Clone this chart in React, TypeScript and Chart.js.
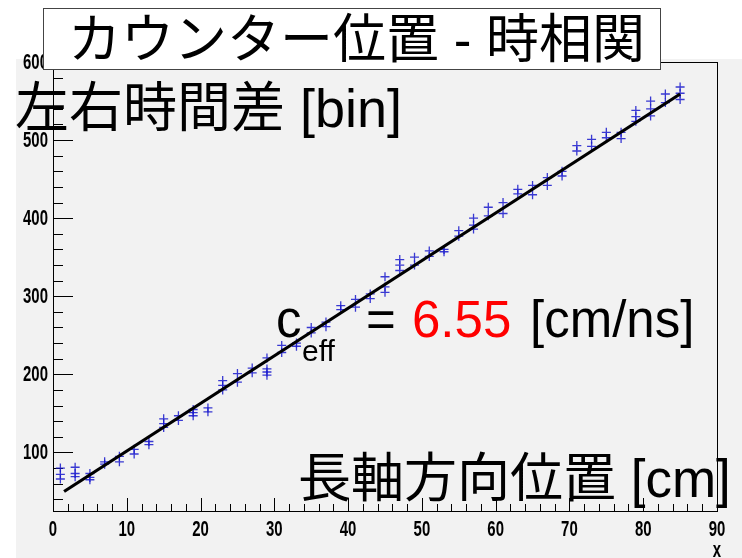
import React, { useEffect, useRef } from "react";
import { Chart, registerables } from "chart.js";

Chart.register(...registerables);

// counter position along the long axis [cm]
const positionsCm = [
  1, 3, 5, 7, 9, 11, 13, 15, 17, 19, 21, 23, 25, 27, 29, 31, 33, 35, 37, 39, 41, 43,
  45, 47, 49, 51, 53, 55, 57, 59, 61, 63, 65, 67, 69, 71, 73, 75, 77, 79, 81, 83, 85,
];

// left-right time difference [bin], several measurements per position
const timeDiffBins = [
  [80, 72, 66],
  [81, 73, 69],
  [73, 68, 65],
  [88, 85],
  [95, 88],
  [104, 98],
  [114, 110],
  [143, 137, 132],
  [147, 141],
  [155, 151, 147],
  [157, 152],
  [192, 186, 180],
  [201, 190],
  [208, 202],
  [221, 207, 203, 199],
  [237, 228],
  [240, 236],
  [260, 253],
  [267, 261],
  [288, 283],
  [296, 286],
  [303, 297],
  [325, 312, 305],
  [347, 340, 333],
  [350, 340],
  [358, 351],
  [360, 357],
  [384, 377],
  [400, 391, 386],
  [414, 403],
  [420, 406],
  [437, 431],
  [442, 430],
  [452, 442],
  [460, 454],
  [493, 486],
  [501, 492],
  [510, 503],
  [510, 502],
  [538, 530, 524],
  [550, 540, 531],
  [559, 548],
  [568, 560, 552],
];

// linear fit line end points
const fitPosCm = [1.5, 85];
const fitTimeDiff = [50, 559];

const xMajorTicks = [0, 10, 20, 30, 40, 50, 60, 70, 80, 90];
const yMajorTicks = [100, 200, 300, 400, 500, 600];
const xRange = [0, 90];
const yRange = [25, 600];

const titleText = "カウンター位置 - 時相関";
const yTitleText = "左右時間差 [bin]";
const xTitleText = "長軸方向位置 [cm]";
const ceffValue = "6.55";
const ceffUnit = "[cm/ns]";

const labelFont = "bold 22px 'Liberation Sans', sans-serif";
const labelSqueeze = 0.68;

function drawSqueezed(ctx: any, text: string, x: number, y: number, align: "left" | "right" | "center") {
  ctx.save();
  ctx.translate(x, y);
  ctx.scale(labelSqueeze, 1);
  ctx.textAlign = align;
  ctx.fillText(text, 0, 0);
  ctx.restore();
}

const frameTicksPlugin = {
  id: "frameTicks",
  beforeDatasetsDraw(chart: any) {
    const { ctx, chartArea } = chart;
    const xs = chart.scales.x;
    const ys = chart.scales.y;
    const { left, right, top, bottom } = chartArea;
    ctx.save();
    ctx.strokeStyle = "#000";
    ctx.lineWidth = 1;
    ctx.strokeRect(Math.round(left) + 0.5, Math.round(top) + 0.5, Math.round(right - left), Math.round(bottom - top));
    ctx.beginPath();
    for (let v = xRange[0]; v <= xRange[1]; v += 2) {
      const px = Math.round(xs.getPixelForValue(v)) + 0.5;
      const len = v % 10 === 0 ? 13 : 7;
      ctx.moveTo(px, bottom);
      ctx.lineTo(px, bottom - len);
    }
    for (let v = 40; v <= yRange[1]; v += 20) {
      const py = Math.round(ys.getPixelForValue(v)) + 0.5;
      const len = v % 100 === 0 ? 20 : 10;
      ctx.moveTo(left, py);
      ctx.lineTo(left + len, py);
    }
    ctx.stroke();

    // tick labels
    ctx.fillStyle = "#000";
    ctx.font = labelFont;
    ctx.textBaseline = "middle";
    xMajorTicks.forEach((v) => {
      drawSqueezed(ctx, String(v), xs.getPixelForValue(v), bottom + 19, "center");
    });
    yMajorTicks.forEach((v) => {
      drawSqueezed(ctx, String(v), left - 5, ys.getPixelForValue(v) + 1, "right");
    });
    drawSqueezed(ctx, "x", xs.getPixelForValue(xRange[1]), bottom + 40, "center");
    ctx.restore();
  },
};

export default function App() {
  const canvasRef = useRef<HTMLCanvasElement | null>(null);

  useEffect(() => {
    if (!canvasRef.current) return;
    const points = positionsCm.flatMap((x, i) => timeDiffBins[i].map((y) => ({ x, y })));
    const fitLine = fitPosCm.map((x, i) => ({ x, y: fitTimeDiff[i] }));

    const chart = new Chart(canvasRef.current, {
      type: "scatter",
      data: {
        datasets: [
          {
            type: "line",
            data: fitLine,
            borderColor: "#000",
            borderWidth: 3.2,
            pointRadius: 0,
            fill: false,
            order: 0,
          } as any,
          {
            type: "scatter",
            data: points,
            pointStyle: "cross",
            pointRadius: 4.5,
            borderColor: "rgba(25, 25, 205, 0.85)",
            borderWidth: 1.3,
            order: 1,
          } as any,
        ],
      },
      options: {
        responsive: false,
        animation: false,
        devicePixelRatio: 1,
        layout: { padding: { left: 0, top: 62, right: 25, bottom: 0 } },
        plugins: {
          legend: { display: false },
          tooltip: { enabled: false },
          title: { display: false },
        },
        scales: {
          x: {
            type: "linear",
            min: xRange[0],
            max: xRange[1],
            grid: { display: false, drawTicks: false },
            border: { display: false },
            afterBuildTicks: (s: any) => {
              s.ticks = xMajorTicks.map((value) => ({ value }));
            },
            afterFit: (s: any) => {
              s.height = 47;
            },
            ticks: { display: false },
          },
          y: {
            type: "linear",
            min: yRange[0],
            max: yRange[1],
            grid: { display: false, drawTicks: false },
            border: { display: false },
            afterBuildTicks: (s: any) => {
              s.ticks = yMajorTicks.map((value) => ({ value }));
            },
            afterFit: (s: any) => {
              s.width = 53;
            },
            ticks: { display: false },
          },
        },
      },
      plugins: [frameTicksPlugin],
    });
    return () => chart.destroy();
  }, []);

  const big = "'Liberation Sans', 'Noto Sans CJK JP', sans-serif";

  return (
    <div
      style={{
        position: "fixed",
        left: 0,
        top: 0,
        width: 742,
        height: 558,
        background: "#fff",
        overflow: "hidden",
      }}
    >
      <div style={{ position: "absolute", left: 16, top: 59, right: 0, bottom: 0, background: "#f2f2f2" }} />
      <canvas ref={canvasRef} width={742} height={558} style={{ position: "absolute", left: 0, top: 0 }} />
      <svg
        width={742}
        height={558}
        style={{ position: "absolute", left: 0, top: 0, pointerEvents: "none" }}
      >
        <rect x={43.5} y={8.5} width={617} height={61} fill="#fff" stroke="#444" strokeWidth={1} />
        <text x={68} y={58} fontFamily={big} fontSize={53} fill="#000">
          {titleText}
        </text>
        <text x={15} y={127} fontFamily={big} fontSize={54} fill="#000">
          {yTitleText}
        </text>
        <text x={298} y={497} fontFamily={big} fontSize={53} fill="#000">
          {xTitleText}
        </text>
        <text x={276} y={337} fontFamily={big} fontSize={51} fill="#000">
          c
        </text>
        <text x={302} y={361} fontFamily={big} fontSize={30} fill="#000">
          eff
        </text>
        <text x={366} y={337} fontFamily={big} fontSize={51} fill="#000">
          =
        </text>
        <text x={412} y={337} fontFamily={big} fontSize={51} fill="#ff0000">
          {ceffValue}
        </text>
        <text x={530} y={337} fontFamily={big} fontSize={51} fill="#000">
          {ceffUnit}
        </text>
      </svg>
    </div>
  );
}
